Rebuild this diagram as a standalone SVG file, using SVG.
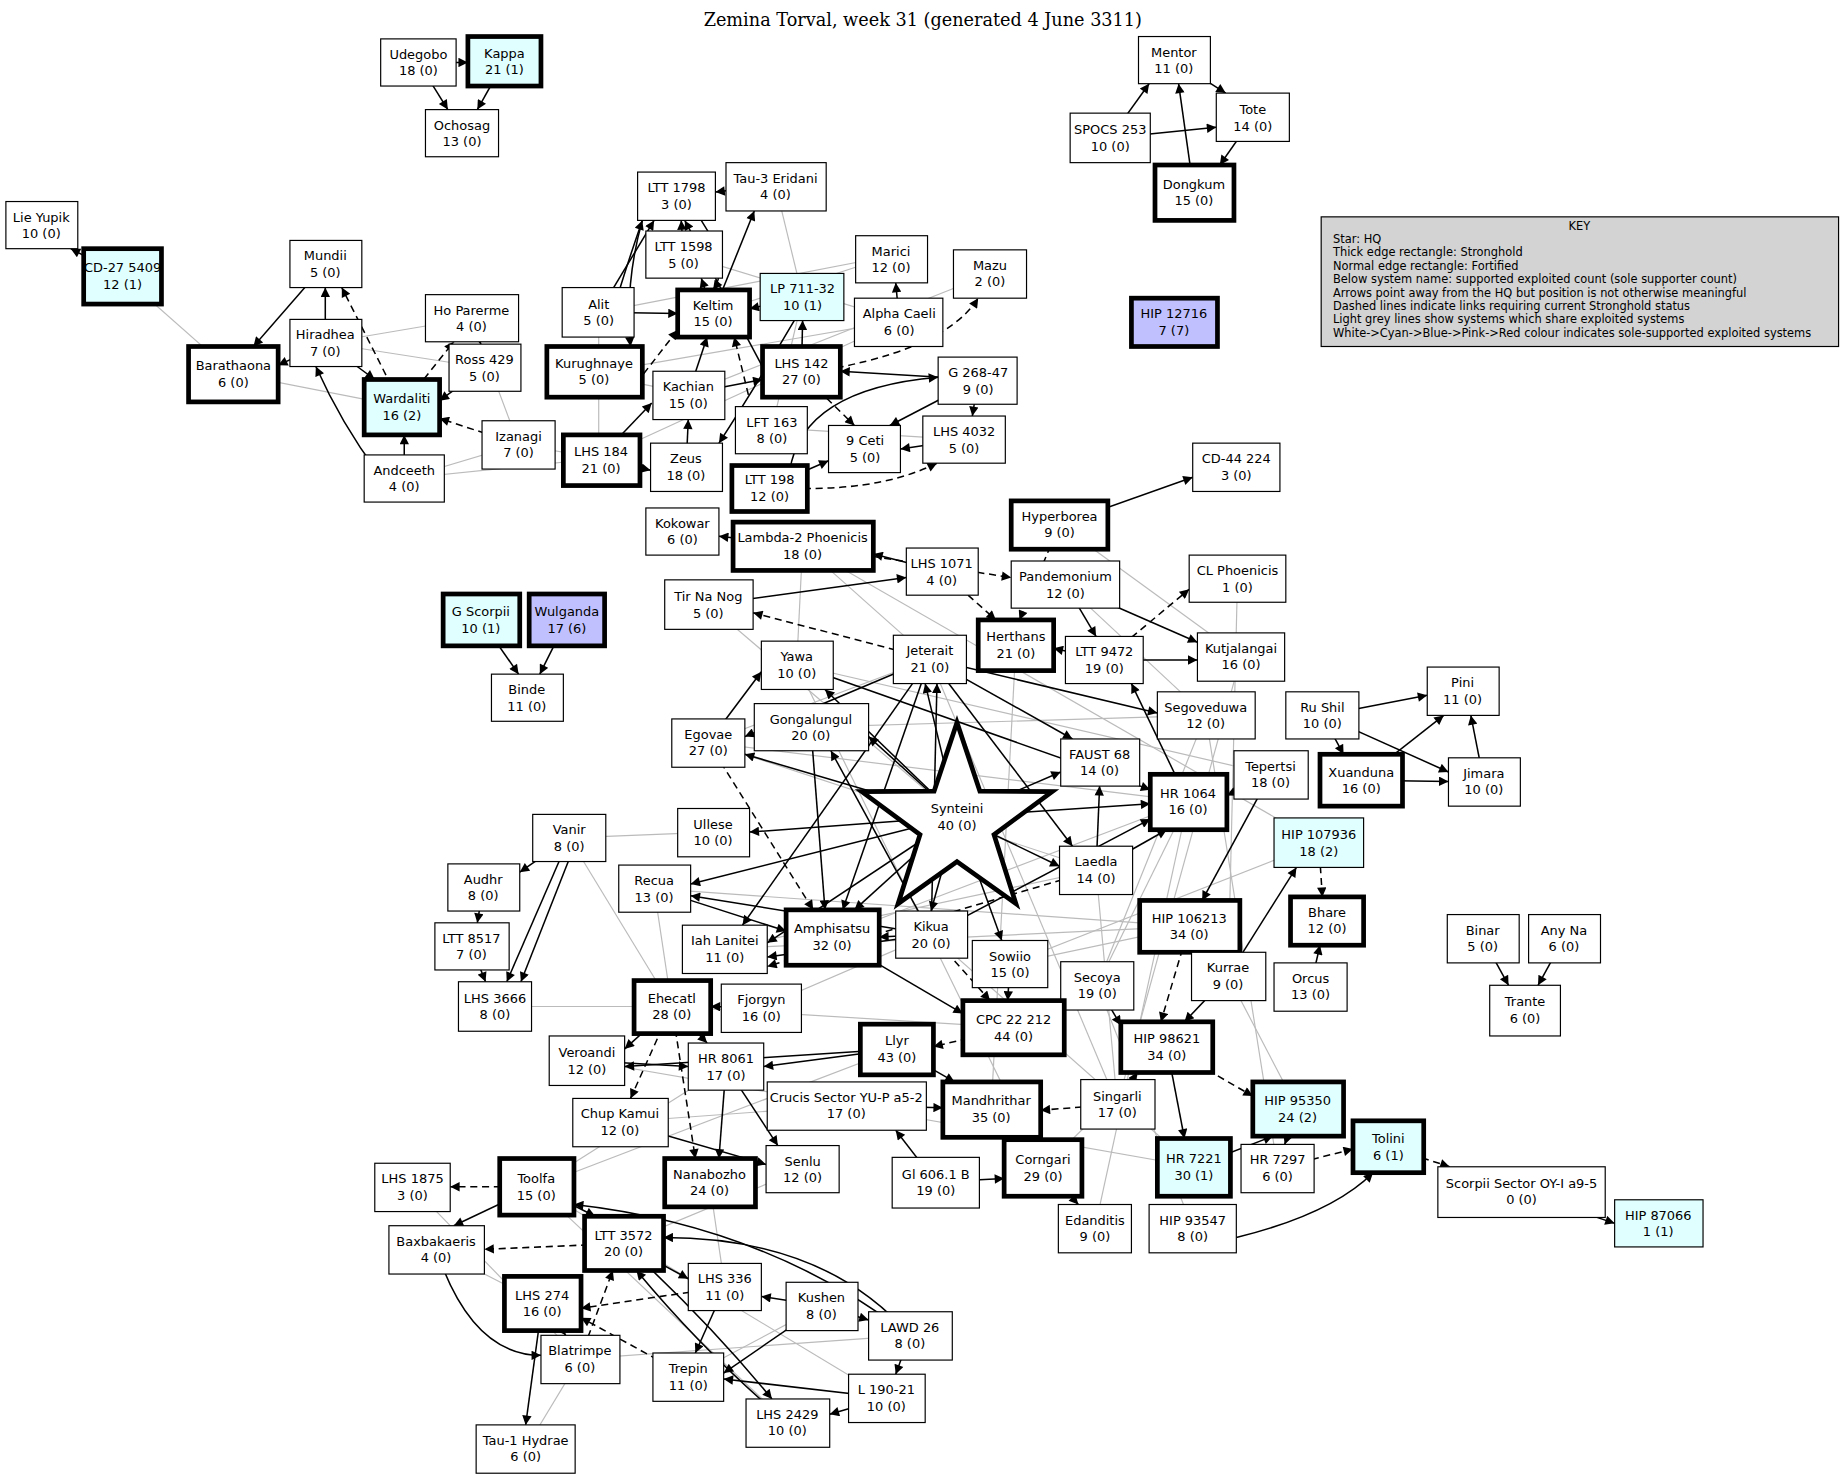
<svg xmlns="http://www.w3.org/2000/svg" width="1848" height="1480" viewBox="0 0 1848 1480">
<style>
text{font-family:"DejaVu Sans",sans-serif;font-size:11px;text-anchor:middle;fill:#000}
.t{font-family:"DejaVu Serif","Liberation Serif",serif;font-size:15px}
.k{text-anchor:start;font-size:9.7px}
rect{fill:#fff;stroke:#000;stroke-width:1}
.s rect{stroke-width:4}
.c rect{fill:#e0ffff}
.b rect{fill:#c0c0ff}
.e line,.e path{stroke:#000;stroke-width:1.3;fill:none;marker-end:url(#a)}
.e .d{stroke-dasharray:6,4}
.g line{stroke:#bbb;stroke-width:1;fill:none}
</style>
<defs><marker id="a" viewBox="0 0 10 10" refX="10" refY="5" markerWidth="10" markerHeight="8" markerUnits="userSpaceOnUse" orient="auto"><path d="M0,0L10,5L0,10z" fill="#000"/></marker></defs>
<rect x="0" y="0" width="1848" height="1480" style="fill:#fff;stroke:none"/>
<g transform="scale(1.17857)">
<text class="t" x="783" y="22">Zemina Torval, week 31 (generated 4 June 3311)</text>
<g class="g">
<line x1="104" y1="234" x2="198" y2="317"/><line x1="198" y1="317" x2="341" y2="345"/><line x1="400" y1="270" x2="276" y2="291"/><line x1="411" y1="312" x2="276" y2="291"/><line x1="440" y1="377" x2="400" y2="270"/><line x1="440" y1="377" x2="343" y2="406"/><line x1="343" y1="406" x2="508" y2="389"/><line x1="508" y1="389" x2="440" y2="377"/><line x1="508" y1="265" x2="508" y2="389"/><line x1="502" y1="317" x2="584" y2="334"/><line x1="681" y1="252" x2="658" y2="157"/><line x1="681" y1="252" x2="655" y2="363"/><line x1="756" y1="217" x2="605" y2="266"/><line x1="841" y1="232" x2="584" y2="334"/><line x1="763" y1="272" x2="508" y2="389"/><line x1="789" y1="559" x2="681" y2="463"/><line x1="676" y1="564" x2="681" y2="463"/><line x1="601" y1="513" x2="812" y2="693"/><line x1="601" y1="630" x2="789" y2="559"/><line x1="688" y1="617" x2="1023" y2="607"/><line x1="676" y1="564" x2="1078" y2="657"/><line x1="483" y1="711" x2="605" y2="706"/><line x1="483" y1="711" x2="570" y2="854"/><line x1="420" y1="854" x2="570" y2="854"/><line x1="555" y1="754" x2="1009" y2="786"/><line x1="615" y1="805" x2="1009" y2="786"/><line x1="857" y1="818" x2="1009" y2="786"/><line x1="931" y1="836" x2="1008" y2="680"/><line x1="1023" y1="607" x2="931" y2="836"/><line x1="1053" y1="557" x2="948" y2="937"/><line x1="1050" y1="491" x2="1042" y2="828"/><line x1="1119" y1="715" x2="857" y2="818"/><line x1="718" y1="938" x2="1013" y2="990"/><line x1="885" y1="991" x2="990" y2="888"/><line x1="929" y1="1042" x2="1008" y2="680"/><line x1="1012" y1="1042" x2="931" y2="836"/><line x1="601" y1="630" x2="1008" y2="680"/><line x1="681" y1="463" x2="1119" y2="715"/><line x1="790" y1="793" x2="1013" y2="990"/><line x1="761" y1="890" x2="455" y2="1007"/><line x1="455" y1="1007" x2="616" y2="905"/><line x1="350" y1="1007" x2="492" y2="1153"/><line x1="446" y1="1229" x2="492" y2="1153"/><line x1="370" y1="1060" x2="460" y2="1106"/><line x1="615" y1="1092" x2="602" y2="1003"/><line x1="668" y1="1207" x2="455" y2="1007"/><line x1="752" y1="1186" x2="455" y2="1007"/><line x1="584" y1="1168" x2="697" y2="1108"/><line x1="492" y1="1153" x2="772" y2="1133"/><line x1="681" y1="992" x2="529" y2="1055"/><line x1="899" y1="445" x2="1053" y2="557"/><line x1="904" y1="496" x2="1023" y2="607"/><line x1="646" y1="855" x2="790" y2="793"/><line x1="570" y1="854" x2="860" y2="872"/><line x1="498" y1="900" x2="718" y2="938"/><line x1="555" y1="754" x2="570" y2="854"/><line x1="526" y1="952" x2="718" y2="938"/><line x1="841" y1="941" x2="862" y2="547"/><line x1="948" y1="937" x2="930" y2="738"/><line x1="706" y1="795" x2="1008" y2="680"/><line x1="615" y1="805" x2="930" y2="738"/><line x1="1101" y1="941" x2="1042" y2="828"/><line x1="1084" y1="991" x2="1023" y2="607"/><line x1="601" y1="630" x2="930" y2="738"/><line x1="676" y1="564" x2="885" y2="991"/><line x1="789" y1="559" x2="948" y2="937"/><line x1="580" y1="216" x2="763" y2="272"/><line x1="508" y1="265" x2="756" y2="217"/><line x1="502" y1="317" x2="763" y2="272"/><line x1="655" y1="363" x2="818" y2="373"/>
</g>
<g class="e">
<line x1="355" y1="53" x2="397" y2="53"/><line x1="355" y1="53" x2="380" y2="93"/><line x1="428" y1="52" x2="405" y2="93"/>
<line x1="942" y1="117" x2="975" y2="71"/><line x1="942" y1="117" x2="1032" y2="108"/><line x1="1013" y1="163" x2="1000" y2="71"/><line x1="996" y1="51" x2="1040" y2="79"/><line x1="1063" y1="100" x2="1035" y2="140"/>
<line x1="104" y1="234" x2="60" y2="211"/>
<line x1="276" y1="224" x2="215" y2="294"/><line x1="276" y1="291" x2="236" y2="310"/><line x1="276" y1="291" x2="276" y2="244"/><line x1="276" y1="291" x2="318" y2="322"/>
<line class="d" x1="341" y1="345" x2="290" y2="244"/><line class="d" x1="341" y1="345" x2="385" y2="290"/><line x1="400" y1="270" x2="408" y2="292"/><line x1="411" y1="312" x2="373" y2="340"/><line class="d" x1="440" y1="377" x2="373" y2="355"/><line x1="343" y1="406" x2="343" y2="369"/><path d="M320,400 Q290,360 268,311"/>
<line x1="508" y1="265" x2="555" y2="187"/><line x1="508" y1="265" x2="575" y2="266"/><path d="M520,265 Q530,230 545,187"/><path d="M545,187 Q530,240 535,294"/>
<line x1="580" y1="216" x2="578" y2="187"/><line x1="605" y1="266" x2="640" y2="179"/><line x1="658" y1="157" x2="607" y2="163"/><line x1="605" y1="266" x2="595" y2="236"/><path d="M595,187 Q620,225 605,246"/>
<line x1="681" y1="252" x2="636" y2="262"/><line x1="763" y1="272" x2="760" y2="240"/><line x1="680" y1="317" x2="681" y2="272"/><line x1="830" y1="322" x2="713" y2="315"/><line class="d" x1="680" y1="317" x2="725" y2="361"/><line x1="650" y1="317" x2="581" y2="187"/>
<line x1="830" y1="322" x2="825" y2="353"/><line x1="830" y1="322" x2="755" y2="361"/><line x1="818" y1="373" x2="764" y2="381"/><path class="d" d="M652,413 Q740,420 795,393"/><line x1="652" y1="413" x2="703" y2="391"/><path d="M670,400 Q680,330 796,320"/>
<line x1="508" y1="389" x2="552" y2="399"/><line x1="508" y1="389" x2="553" y2="342"/><line x1="582" y1="399" x2="584" y2="356"/><line x1="584" y1="334" x2="600" y2="286"/><line x1="584" y1="334" x2="647" y2="322"/><path class="d" d="M680,317 Q800,300 830,253"/><line class="d" x1="540" y1="325" x2="575" y2="280"/><line class="d" x1="635" y1="335" x2="623" y2="286"/><path d="M681,260 Q640,330 610,376"/>
<line x1="681" y1="463" x2="610" y2="455"/><line class="d" x1="681" y1="463" x2="858" y2="490"/><line x1="799" y1="485" x2="741" y2="470"/><line x1="601" y1="513" x2="769" y2="490"/>
<line x1="899" y1="445" x2="1012" y2="405"/><line class="d" x1="899" y1="445" x2="865" y2="526"/><line x1="904" y1="496" x2="1016" y2="545"/><line x1="904" y1="496" x2="930" y2="540"/><line class="d" x1="937" y1="560" x2="1009" y2="500"/><line x1="937" y1="560" x2="1016" y2="560"/><line x1="937" y1="560" x2="894" y2="550"/><line class="d" x1="789" y1="559" x2="639" y2="520"/><line class="d" x1="799" y1="485" x2="845" y2="526"/>
<line x1="408" y1="526" x2="440" y2="572"/><line x1="481" y1="526" x2="458" y2="572"/>
<line x1="1122" y1="607" x2="1211" y2="590"/><line x1="1122" y1="607" x2="1229" y2="655"/><line x1="1122" y1="607" x2="1140" y2="640"/><line x1="1155" y1="662" x2="1225" y2="607"/><line x1="1155" y1="662" x2="1229" y2="663"/><line x1="1259" y1="663" x2="1248" y2="607"/>
<line x1="812" y1="693" x2="737" y2="625"/><line x1="812" y1="693" x2="632" y2="640"/><line x1="812" y1="693" x2="700" y2="585"/><line x1="812" y1="693" x2="785" y2="580"/><line x1="812" y1="693" x2="636" y2="706"/><line x1="812" y1="693" x2="586" y2="750"/><line x1="812" y1="693" x2="651" y2="800"/><line x1="812" y1="693" x2="725" y2="772"/><line x1="812" y1="693" x2="790" y2="773"/><line x1="812" y1="693" x2="850" y2="798"/><line x1="812" y1="693" x2="976" y2="682"/><line x1="812" y1="693" x2="899" y2="735"/><line x1="812" y1="693" x2="900" y2="655"/>
<line x1="789" y1="559" x2="982" y2="605"/><line x1="789" y1="559" x2="910" y2="627"/><line x1="789" y1="559" x2="715" y2="772"/><line x1="789" y1="559" x2="630" y2="785"/><line x1="789" y1="559" x2="632" y2="625"/><line x1="789" y1="559" x2="910" y2="718"/>
<line x1="676" y1="564" x2="976" y2="670"/><line x1="688" y1="617" x2="700" y2="772"/><line class="d" x1="601" y1="630" x2="690" y2="772"/><line x1="601" y1="630" x2="646" y2="570"/>
<line x1="790" y1="793" x2="795" y2="580"/><line x1="790" y1="793" x2="651" y2="812"/><line x1="790" y1="793" x2="746" y2="795"/><line x1="790" y1="793" x2="586" y2="760"/><line x1="790" y1="793" x2="976" y2="695"/><line x1="790" y1="793" x2="705" y2="637"/><line x1="555" y1="754" x2="667" y2="790"/>
<line x1="930" y1="738" x2="990" y2="704"/><line x1="930" y1="738" x2="933" y2="667"/><line class="d" x1="930" y1="738" x2="651" y2="820"/>
<line x1="1078" y1="657" x2="1020" y2="764"/><line x1="1078" y1="657" x2="1041" y2="675"/><line x1="1008" y1="680" x2="960" y2="580"/>
<line class="d" x1="1119" y1="715" x2="1122" y2="761"/><line x1="1042" y1="828" x2="1100" y2="736"/><line x1="1112" y1="837" x2="1120" y2="802"/><line class="d" x1="1009" y1="786" x2="985" y2="867"/><line x1="1042" y1="828" x2="1005" y2="867"/><line x1="1009" y1="786" x2="1030" y2="808"/>
<line x1="990" y1="888" x2="1005" y2="966"/><line class="d" x1="990" y1="888" x2="1063" y2="930"/><line x1="1013" y1="990" x2="1080" y2="964"/><line x1="1101" y1="941" x2="1090" y2="971"/>
<line class="d" x1="1084" y1="991" x2="1148" y2="975"/><path d="M1049,1050 Q1130,1030 1165,995"/><line class="d" x1="1178" y1="973" x2="1230" y2="990"/><line x1="1291" y1="1011" x2="1370" y2="1038"/>
<line x1="1258" y1="796" x2="1280" y2="836"/><line x1="1327" y1="796" x2="1305" y2="836"/>
<line x1="948" y1="937" x2="965" y2="910"/><line class="d" x1="948" y1="937" x2="883" y2="942"/><line x1="931" y1="836" x2="951" y2="870"/>
<line x1="483" y1="711" x2="441" y2="740"/><line x1="483" y1="711" x2="430" y2="833"/><line x1="490" y1="711" x2="442" y2="833"/><line x1="410" y1="753" x2="405" y2="783"/><line x1="400" y1="803" x2="412" y2="833"/>
<line x1="761" y1="890" x2="648" y2="905"/><line x1="646" y1="855" x2="603" y2="854"/><line x1="570" y1="854" x2="530" y2="890"/><line x1="570" y1="854" x2="600" y2="885"/><line class="d" x1="570" y1="854" x2="590" y2="983"/><line class="d" x1="570" y1="854" x2="535" y2="932"/><line x1="498" y1="900" x2="584" y2="905"/><line x1="616" y1="905" x2="610" y2="983"/><line x1="616" y1="905" x2="660" y2="972"/><line x1="526" y1="952" x2="650" y2="988"/>
<line x1="718" y1="938" x2="800" y2="940"/><line x1="794" y1="1003" x2="760" y2="959"/><line x1="794" y1="1003" x2="852" y2="1000"/><line x1="841" y1="941" x2="870" y2="967"/><line x1="841" y1="941" x2="915" y2="1022"/><line class="d" x1="860" y1="872" x2="792" y2="888"/><line x1="761" y1="890" x2="810" y2="918"/><line x1="761" y1="890" x2="530" y2="905"/>
<line class="d" x1="790" y1="793" x2="840" y2="849"/><line x1="857" y1="818" x2="855" y2="849"/><line x1="706" y1="795" x2="817" y2="860"/>
<line class="d" x1="455" y1="1007" x2="382" y2="1007"/><line x1="455" y1="1007" x2="385" y2="1040"/><line class="d" x1="529" y1="1055" x2="411" y2="1060"/><line x1="529" y1="1055" x2="584" y2="1085"/><line x1="460" y1="1106" x2="446" y2="1209"/><line x1="460" y1="1106" x2="480" y2="1133"/>
<line x1="697" y1="1108" x2="646" y2="1100"/><line x1="697" y1="1108" x2="614" y2="1165"/><line x1="697" y1="1108" x2="737" y2="1120"/><path d="M772,1133 Q700,1050 563,1050"/><line x1="772" y1="1133" x2="760" y2="1166"/><line x1="752" y1="1186" x2="704" y2="1200"/><line x1="752" y1="1186" x2="614" y2="1170"/><line x1="615" y1="1092" x2="590" y2="1148"/>
<line class="d" x1="615" y1="1092" x2="493" y2="1110"/><line class="d" x1="584" y1="1168" x2="493" y2="1118"/><line x1="455" y1="1007" x2="505" y2="1032"/><path d="M668,1207 Q600,1150 540,1078"/><path d="M529,1055 Q600,1120 655,1187"/><path d="M772,1133 Q650,1040 487,1022"/><path d="M370,1060 Q400,1150 459,1150"/><line class="d" x1="492" y1="1153" x2="520" y2="1078"/>
</g>
<g id="udegobo"><rect x="323" y="33" width="64" height="40"/><text x="355" y="50">Udegobo</text><text x="355" y="64">18 (0)</text></g>
<g id="kappa" class="s c"><rect x="397" y="31" width="62" height="42"/><text x="428" y="49">Kappa</text><text x="428" y="63">21 (1)</text></g>
<g id="ochosag"><rect x="361" y="93" width="62" height="40"/><text x="392" y="110">Ochosag</text><text x="392" y="124">13 (0)</text></g>
<g id="mentor"><rect x="966" y="31" width="61" height="40"/><text x="996" y="48">Mentor</text><text x="996" y="62">11 (0)</text></g>
<g id="tote"><rect x="1032" y="79" width="62" height="41"/><text x="1063" y="97">Tote</text><text x="1063" y="111">14 (0)</text></g>
<g id="spocs"><rect x="908" y="96" width="68" height="42"/><text x="942" y="114">SPOCS 253</text><text x="942" y="128">10 (0)</text></g>
<g id="dongkum" class="s"><rect x="980" y="140" width="67" height="47"/><text x="1013" y="160">Dongkum</text><text x="1013" y="174">15 (0)</text></g>
<g id="lieyupik"><rect x="5" y="171" width="61" height="40"/><text x="35" y="188">Lie Yupik</text><text x="35" y="202">10 (0)</text></g>
<g id="cd27" class="s c"><rect x="71" y="211" width="66" height="47"/><text x="104" y="231">CD-27 5409</text><text x="104" y="245">12 (1)</text></g>
<g id="mundii"><rect x="246" y="204" width="61" height="40"/><text x="276" y="221">Mundii</text><text x="276" y="235">5 (0)</text></g>
<g id="hoparerme"><rect x="361" y="250" width="79" height="40"/><text x="400" y="267">Ho Parerme</text><text x="400" y="281">4 (0)</text></g>
<g id="hiradhea"><rect x="246" y="271" width="61" height="40"/><text x="276" y="288">Hiradhea</text><text x="276" y="302">7 (0)</text></g>
<g id="barathaona" class="s"><rect x="160" y="294" width="76" height="47"/><text x="198" y="314">Barathaona</text><text x="198" y="328">6 (0)</text></g>
<g id="ross429"><rect x="381" y="292" width="61" height="40"/><text x="411" y="309">Ross 429</text><text x="411" y="323">5 (0)</text></g>
<g id="wardaliti" class="s c"><rect x="309" y="322" width="64" height="47"/><text x="341" y="342">Wardaliti</text><text x="341" y="356">16 (2)</text></g>
<g id="izanagi"><rect x="409" y="357" width="62" height="41"/><text x="440" y="374">Izanagi</text><text x="440" y="388">7 (0)</text></g>
<g id="andceeth"><rect x="309" y="386" width="68" height="40"/><text x="343" y="403">Andceeth</text><text x="343" y="417">4 (0)</text></g>
<g id="ltt1798"><rect x="541" y="146" width="66" height="41"/><text x="574" y="163">LTT 1798</text><text x="574" y="177">3 (0)</text></g>
<g id="tau3"><rect x="616" y="138" width="85" height="41"/><text x="658" y="155">Tau-3 Eridani</text><text x="658" y="169">4 (0)</text></g>
<g id="ltt1598"><rect x="548" y="196" width="65" height="40"/><text x="580" y="213">LTT 1598</text><text x="580" y="227">5 (0)</text></g>
<g id="marici"><rect x="726" y="200" width="61" height="40"/><text x="756" y="217">Marici</text><text x="756" y="231">12 (0)</text></g>
<g id="mazu"><rect x="809" y="212" width="62" height="41"/><text x="840" y="229">Mazu</text><text x="840" y="243">2 (0)</text></g>
<g id="alit"><rect x="477" y="244" width="61" height="42"/><text x="508" y="262">Alit</text><text x="508" y="276">5 (0)</text></g>
<g id="keltim" class="s"><rect x="575" y="246" width="61" height="40"/><text x="605" y="263">Keltim</text><text x="605" y="277">15 (0)</text></g>
<g id="lp711" class="c"><rect x="645" y="232" width="71" height="40"/><text x="681" y="249">LP 711-32</text><text x="681" y="263">10 (1)</text></g>
<g id="alphacaeli"><rect x="725" y="253" width="75" height="41"/><text x="763" y="270">Alpha Caeli</text><text x="763" y="284">6 (0)</text></g>
<g id="kurughnaye" class="s"><rect x="464" y="294" width="81" height="43"/><text x="504" y="312">Kurughnaye</text><text x="504" y="326">5 (0)</text></g>
<g id="lhs142" class="s"><rect x="647" y="294" width="66" height="43"/><text x="680" y="312">LHS 142</text><text x="680" y="326">27 (0)</text></g>
<g id="g26847"><rect x="796" y="303" width="67" height="40"/><text x="830" y="320">G 268-47</text><text x="830" y="334">9 (0)</text></g>
<g id="kachian"><rect x="554" y="315" width="61" height="41"/><text x="584" y="332">Kachian</text><text x="584" y="346">15 (0)</text></g>
<g id="lft163"><rect x="624" y="345" width="61" height="40"/><text x="655" y="362">LFT 163</text><text x="655" y="376">8 (0)</text></g>
<g id="lhs4032"><rect x="783" y="353" width="70" height="40"/><text x="818" y="370">LHS 4032</text><text x="818" y="384">5 (0)</text></g>
<g id="lhs184" class="s"><rect x="478" y="369" width="65" height="43"/><text x="510" y="387">LHS 184</text><text x="510" y="401">21 (0)</text></g>
<g id="zeus"><rect x="552" y="376" width="61" height="41"/><text x="582" y="393">Zeus</text><text x="582" y="407">18 (0)</text></g>
<g id="ceti9"><rect x="703" y="361" width="61" height="40"/><text x="734" y="378">9 Ceti</text><text x="734" y="392">5 (0)</text></g>
<g id="ltt198" class="s"><rect x="621" y="395" width="64" height="39"/><text x="653" y="411">LTT 198</text><text x="653" y="425">12 (0)</text></g>
<g id="cd44"><rect x="1012" y="376" width="74" height="41"/><text x="1049" y="393">CD-44 224</text><text x="1049" y="407">3 (0)</text></g>
<g id="hip12716" class="s b"><rect x="960" y="253" width="73" height="41"/><text x="996" y="270">HIP 12716</text><text x="996" y="284">7 (7)</text></g>
<g id="key"><rect x="1121" y="184" width="439" height="110" style="fill:#d3d3d3"/><text x="1340" y="195" style="font-size:9.7px">KEY</text>
<text class="k" x="1131" y="206">Star: HQ</text><text class="k" x="1131" y="217.4">Thick edge rectangle: Stronghold</text><text class="k" x="1131" y="228.8">Normal edge rectangle: Fortified</text><text class="k" x="1131" y="240.2">Below system name: supported exploited count (sole supporter count)</text><text class="k" x="1131" y="251.6">Arrows point away from the HQ but position is not otherwise meaningful</text><text class="k" x="1131" y="263">Dashed lines indicate links requiring current Stronghold status</text><text class="k" x="1131" y="274.4">Light grey lines show systems which share exploited systems</text><text class="k" x="1131" y="285.8">White-&gt;Cyan-&gt;Blue-&gt;Pink-&gt;Red colour indicates sole-supported exploited systems</text></g>
<g id="kokowar"><rect x="548" y="431" width="62" height="40"/><text x="579" y="448">Kokowar</text><text x="579" y="462">6 (0)</text></g>
<g id="lambda2" class="s"><rect x="622" y="443" width="119" height="41"/><text x="681" y="460">Lambda-2 Phoenicis</text><text x="681" y="474">18 (0)</text></g>
<g id="hyperborea" class="s"><rect x="858" y="425" width="82" height="41"/><text x="899" y="442">Hyperborea</text><text x="899" y="456">9 (0)</text></g>
<g id="lhs1071"><rect x="769" y="465" width="61" height="40"/><text x="799" y="482">LHS 1071</text><text x="799" y="496">4 (0)</text></g>
<g id="pandemonium"><rect x="858" y="476" width="92" height="40"/><text x="904" y="493">Pandemonium</text><text x="904" y="507">12 (0)</text></g>
<g id="clphoenicis"><rect x="1009" y="471" width="82" height="40"/><text x="1050" y="488">CL Phoenicis</text><text x="1050" y="502">1 (0)</text></g>
<g id="tirnanog"><rect x="564" y="492" width="75" height="42"/><text x="601" y="510">Tir Na Nog</text><text x="601" y="524">5 (0)</text></g>
<g id="gscorpii" class="s c"><rect x="376" y="504" width="65" height="44"/><text x="408" y="523">G Scorpii</text><text x="408" y="537">10 (1)</text></g>
<g id="wulganda" class="s b"><rect x="449" y="504" width="64" height="44"/><text x="481" y="523">Wulganda</text><text x="481" y="537">17 (6)</text></g>
<g id="binde"><rect x="417" y="572" width="61" height="40"/><text x="447" y="589">Binde</text><text x="447" y="603">11 (0)</text></g>
<g id="segoveduwa"><rect x="982" y="587" width="83" height="40"/><text x="1023" y="604">Segoveduwa</text><text x="1023" y="618">12 (0)</text></g>
<g id="rushil"><rect x="1091" y="587" width="62" height="40"/><text x="1122" y="604">Ru Shil</text><text x="1122" y="618">10 (0)</text></g>
<g id="pini"><rect x="1211" y="566" width="61" height="41"/><text x="1241" y="583">Pini</text><text x="1241" y="597">11 (0)</text></g>
<g id="tepertsi"><rect x="1047" y="637" width="63" height="41"/><text x="1078" y="654">Tepertsi</text><text x="1078" y="668">18 (0)</text></g>
<g id="xuanduna" class="s"><rect x="1120" y="640" width="70" height="44"/><text x="1155" y="659">Xuanduna</text><text x="1155" y="673">16 (0)</text></g>
<g id="jimara"><rect x="1229" y="643" width="61" height="41"/><text x="1259" y="660">Jimara</text><text x="1259" y="674">10 (0)</text></g>
<g id="yawa"><rect x="646" y="544" width="61" height="41"/><text x="676" y="561">Yawa</text><text x="676" y="575">10 (0)</text></g>
<g id="jeterait"><rect x="758" y="539" width="62" height="41"/><text x="789" y="556">Jeterait</text><text x="789" y="570">21 (0)</text></g>
<g id="herthans" class="s"><rect x="830" y="526" width="64" height="43"/><text x="862" y="544">Herthans</text><text x="862" y="558">21 (0)</text></g>
<g id="ltt9472"><rect x="904" y="540" width="66" height="40"/><text x="937" y="557">LTT 9472</text><text x="937" y="571">19 (0)</text></g>
<g id="kutjalangai"><rect x="1016" y="537" width="74" height="41"/><text x="1053" y="554">Kutjalangai</text><text x="1053" y="568">16 (0)</text></g>
<g id="gongalungul"><rect x="640" y="597" width="97" height="40"/><text x="688" y="614">Gongalungul</text><text x="688" y="628">20 (0)</text></g>
<g id="egovae"><rect x="570" y="610" width="62" height="41"/><text x="601" y="627">Egovae</text><text x="601" y="641">27 (0)</text></g>
<g id="faust68"><rect x="900" y="627" width="67" height="40"/><text x="933" y="644">FAUST 68</text><text x="933" y="658">14 (0)</text></g>
<g id="hr1064" class="s"><rect x="976" y="657" width="65" height="47"/><text x="1008" y="677">HR 1064</text><text x="1008" y="691">16 (0)</text></g>
<g id="ullese"><rect x="575" y="686" width="61" height="41"/><text x="605" y="703">Ullese</text><text x="605" y="717">10 (0)</text></g>
<g id="vanir"><rect x="452" y="691" width="62" height="40"/><text x="483" y="708">Vanir</text><text x="483" y="722">8 (0)</text></g>
<g id="hip107936" class="c"><rect x="1081" y="694" width="76" height="42"/><text x="1119" y="712">HIP 107936</text><text x="1119" y="726">18 (2)</text></g>
<g id="audhr"><rect x="380" y="733" width="61" height="40"/><text x="410" y="750">Audhr</text><text x="410" y="764">8 (0)</text></g>
<g id="laedla"><rect x="899" y="718" width="62" height="41"/><text x="930" y="735">Laedla</text><text x="930" y="749">14 (0)</text></g>
<g id="recua"><rect x="525" y="734" width="61" height="40"/><text x="555" y="751">Recua</text><text x="555" y="765">13 (0)</text></g>
<g id="hip106213" class="s"><rect x="967" y="764" width="85" height="44"/><text x="1009" y="783">HIP 106213</text><text x="1009" y="797">34 (0)</text></g>
<g id="bhare" class="s"><rect x="1095" y="761" width="62" height="41"/><text x="1126" y="778">Bhare</text><text x="1126" y="792">12 (0)</text></g>
<g id="amphisatsu" class="s"><rect x="667" y="772" width="79" height="47"/><text x="706" y="792">Amphisatsu</text><text x="706" y="806">32 (0)</text></g>
<g id="kikua"><rect x="760" y="773" width="61" height="40"/><text x="790" y="790">Kikua</text><text x="790" y="804">20 (0)</text></g>
<g id="iahlanitei"><rect x="579" y="785" width="72" height="41"/><text x="615" y="802">Iah Lanitei</text><text x="615" y="816">11 (0)</text></g>
<g id="ltt8517"><rect x="369" y="783" width="63" height="40"/><text x="400" y="800">LTT 8517</text><text x="400" y="814">7 (0)</text></g>
<g id="binar"><rect x="1228" y="776" width="61" height="41"/><text x="1258" y="793">Binar</text><text x="1258" y="807">5 (0)</text></g>
<g id="anyna"><rect x="1297" y="776" width="61" height="41"/><text x="1327" y="793">Any Na</text><text x="1327" y="807">6 (0)</text></g>
<g id="sowiio"><rect x="825" y="798" width="64" height="40"/><text x="857" y="815">Sowiio</text><text x="857" y="829">15 (0)</text></g>
<g id="secoya"><rect x="900" y="816" width="62" height="41"/><text x="931" y="833">Secoya</text><text x="931" y="847">19 (0)</text></g>
<g id="kurrae"><rect x="1011" y="808" width="63" height="41"/><text x="1042" y="825">Kurrae</text><text x="1042" y="839">9 (0)</text></g>
<g id="orcus"><rect x="1081" y="817" width="62" height="41"/><text x="1112" y="834">Orcus</text><text x="1112" y="848">13 (0)</text></g>
<g id="trante"><rect x="1264" y="836" width="60" height="43"/><text x="1294" y="854">Trante</text><text x="1294" y="868">6 (0)</text></g>
<g id="lhs3666"><rect x="389" y="833" width="62" height="42"/><text x="420" y="851">LHS 3666</text><text x="420" y="865">8 (0)</text></g>
<g id="ehecatl" class="s"><rect x="538" y="832" width="65" height="45"/><text x="570" y="851">Ehecatl</text><text x="570" y="865">28 (0)</text></g>
<g id="fjorgyn"><rect x="612" y="835" width="68" height="41"/><text x="646" y="852">Fjorgyn</text><text x="646" y="866">16 (0)</text></g>
<g id="cpc22212" class="s"><rect x="817" y="849" width="86" height="46"/><text x="860" y="869">CPC 22 212</text><text x="860" y="883">44 (0)</text></g>
<g id="hip98621" class="s"><rect x="951" y="867" width="78" height="43"/><text x="990" y="885">HIP 98621</text><text x="990" y="899">34 (0)</text></g>
<g id="llyr" class="s"><rect x="730" y="869" width="62" height="43"/><text x="761" y="887">Llyr</text><text x="761" y="901">43 (0)</text></g>
<g id="veroandi"><rect x="466" y="879" width="64" height="42"/><text x="498" y="897">Veroandi</text><text x="498" y="911">12 (0)</text></g>
<g id="hr8061"><rect x="584" y="885" width="64" height="40"/><text x="616" y="902">HR 8061</text><text x="616" y="916">17 (0)</text></g>
<g id="hip95350" class="s c"><rect x="1063" y="918" width="77" height="46"/><text x="1101" y="938">HIP 95350</text><text x="1101" y="952">24 (2)</text></g>
<g id="crucis"><rect x="651" y="918" width="135" height="41"/><text x="718" y="935">Crucis Sector YU-P a5-2</text><text x="718" y="949">17 (0)</text></g>
<g id="mandhrithar" class="s"><rect x="800" y="918" width="83" height="47"/><text x="841" y="938">Mandhrithar</text><text x="841" y="952">35 (0)</text></g>
<g id="singarli"><rect x="917" y="916" width="63" height="42"/><text x="948" y="934">Singarli</text><text x="948" y="948">17 (0)</text></g>
<g id="chupkamui"><rect x="486" y="932" width="81" height="41"/><text x="526" y="949">Chup Kamui</text><text x="526" y="963">12 (0)</text></g>
<g id="tolini" class="s c"><rect x="1148" y="951" width="60" height="44"/><text x="1178" y="970">Tolini</text><text x="1178" y="984">6 (1)</text></g>
<g id="hr7221" class="s c"><rect x="982" y="966" width="62" height="49"/><text x="1013" y="987">HR 7221</text><text x="1013" y="1001">30 (1)</text></g>
<g id="hr7297"><rect x="1053" y="971" width="62" height="41"/><text x="1084" y="988">HR 7297</text><text x="1084" y="1002">6 (0)</text></g>
<g id="corngari" class="s"><rect x="852" y="967" width="66" height="48"/><text x="885" y="988">Corngari</text><text x="885" y="1002">29 (0)</text></g>
<g id="senlu"><rect x="650" y="972" width="62" height="40"/><text x="681" y="989">Senlu</text><text x="681" y="1003">12 (0)</text></g>
<g id="gl606"><rect x="757" y="982" width="74" height="43"/><text x="794" y="1000">Gl 606.1 B</text><text x="794" y="1014">19 (0)</text></g>
<g id="nanabozho" class="s"><rect x="564" y="983" width="77" height="41"/><text x="602" y="1000">Nanabozho</text><text x="602" y="1014">24 (0)</text></g>
<g id="lhs1875"><rect x="318" y="987" width="64" height="41"/><text x="350" y="1004">LHS 1875</text><text x="350" y="1018">3 (0)</text></g>
<g id="toolfa" class="s"><rect x="424" y="983" width="63" height="48"/><text x="455" y="1004">Toolfa</text><text x="455" y="1018">15 (0)</text></g>
<g id="scorpii"><rect x="1220" y="990" width="142" height="43"/><text x="1291" y="1008">Scorpii Sector OY-I a9-5</text><text x="1291" y="1022">0 (0)</text></g>
<g id="edanditis"><rect x="898" y="1022" width="62" height="41"/><text x="929" y="1039">Edanditis</text><text x="929" y="1053">9 (0)</text></g>
<g id="hip93547"><rect x="975" y="1022" width="74" height="41"/><text x="1012" y="1039">HIP 93547</text><text x="1012" y="1053">8 (0)</text></g>
<g id="hip87066" class="c"><rect x="1370" y="1018" width="75" height="40"/><text x="1407" y="1035">HIP 87066</text><text x="1407" y="1049">1 (1)</text></g>
<g id="ltt3572" class="s"><rect x="496" y="1032" width="67" height="46"/><text x="529" y="1052">LTT 3572</text><text x="529" y="1066">20 (0)</text></g>
<g id="baxbakaeris"><rect x="330" y="1040" width="81" height="41"/><text x="370" y="1057">Baxbakaeris</text><text x="370" y="1071">4 (0)</text></g>
<g id="lhs336"><rect x="584" y="1072" width="62" height="40"/><text x="615" y="1089">LHS 336</text><text x="615" y="1103">11 (0)</text></g>
<g id="kushen"><rect x="667" y="1088" width="61" height="41"/><text x="697" y="1105">Kushen</text><text x="697" y="1119">8 (0)</text></g>
<g id="lawd26"><rect x="737" y="1113" width="71" height="41"/><text x="772" y="1130">LAWD 26</text><text x="772" y="1144">8 (0)</text></g>
<g id="lhs274" class="s"><rect x="428" y="1083" width="65" height="46"/><text x="460" y="1103">LHS 274</text><text x="460" y="1117">16 (0)</text></g>
<g id="blatrimpe"><rect x="459" y="1133" width="67" height="41"/><text x="492" y="1150">Blatrimpe</text><text x="492" y="1164">6 (0)</text></g>
<g id="trepin"><rect x="554" y="1148" width="60" height="41"/><text x="584" y="1165">Trepin</text><text x="584" y="1179">11 (0)</text></g>
<g id="l19021"><rect x="720" y="1166" width="65" height="41"/><text x="752" y="1183">L 190-21</text><text x="752" y="1197">10 (0)</text></g>
<g id="lhs2429"><rect x="633" y="1187" width="71" height="41"/><text x="668" y="1204">LHS 2429</text><text x="668" y="1218">10 (0)</text></g>
<g id="tau1"><rect x="404" y="1209" width="84" height="41"/><text x="446" y="1226">Tau-1 Hydrae</text><text x="446" y="1240">6 (0)</text></g>
<g id="synteini"><polygon points="812,613 831.4,671.3 892.8,671.7 843.4,708.2 862,766.8 812,731 762,766.8 780.6,708.2 731.2,671.7 792.6,671.3" style="fill:#fff;stroke:#000;stroke-width:4;stroke-linejoin:miter"/><text x="812" y="690">Synteini</text><text x="812" y="704">40 (0)</text></g>
</g>
</svg>
